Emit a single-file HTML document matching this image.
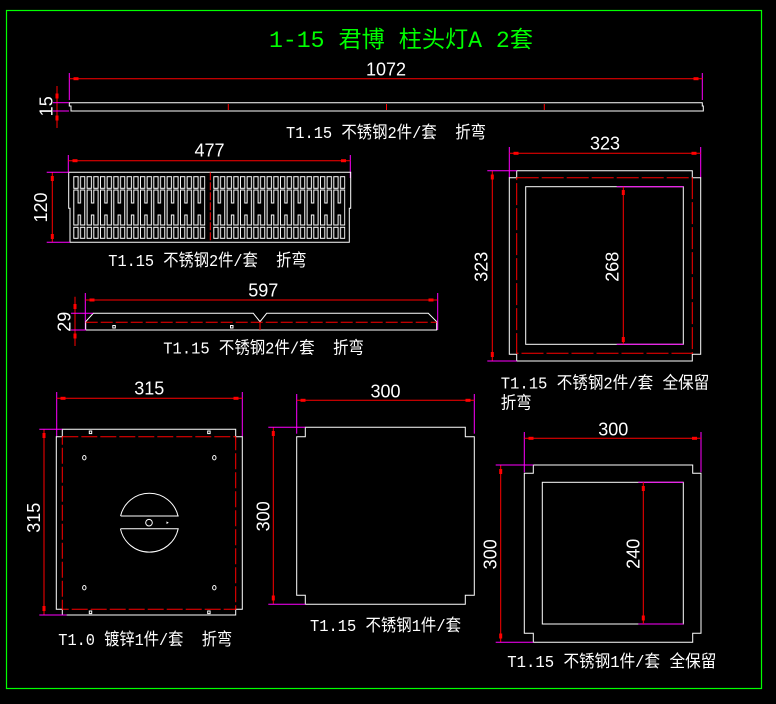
<!DOCTYPE html>
<html><head><meta charset="utf-8">
<style>
html,body{margin:0;padding:0;background:#000;}
svg{display:block;}
.d{font-family:"Liberation Sans",sans-serif;font-size:18px;fill:#fff;text-anchor:middle;}
.c{font-family:"Liberation Mono","Noto Sans CJK SC",monospace;font-size:17px;fill:#fff;white-space:pre;}
.w{stroke:#fff;stroke-width:1;fill:none;}
.r{stroke:#f00;stroke-width:1;fill:none;}
.m{stroke:#f0f;stroke-width:1;fill:none;}
.rd{stroke:#f00;stroke-width:1;fill:none;}
.mk{fill:#f00;}
</style></head>
<body>
<svg width="776" height="704" viewBox="0 0 776 704" xmlns="http://www.w3.org/2000/svg">
<defs>
<pattern id="slots" patternUnits="userSpaceOnUse" x="73.3" y="0" width="13.333" height="704">
  <rect x="0.5" y="176.7" width="4.3" height="11.6" fill="none" stroke="#fff" stroke-width="1"/>
  <rect x="7.17" y="176.7" width="4.3" height="11.6" fill="none" stroke="#fff" stroke-width="1"/>
  <rect x="0.5" y="227.3" width="4.3" height="11" fill="none" stroke="#fff" stroke-width="1"/>
  <rect x="7.17" y="227.3" width="4.3" height="11" fill="none" stroke="#fff" stroke-width="1"/>
  <path d="M0.5,190 H4.8 V203 H7.17 V190 H11.47 V225 H7.17 V215 H4.8 V225 H0.5 Z" fill="none" stroke="#fff" stroke-width="1"/>
</pattern>
</defs>
<rect x="0" y="0" width="776" height="704" fill="#000"/>
<!-- border -->
<rect x="6.5" y="10.5" width="755" height="678" fill="none" stroke="#0f0" stroke-width="1.2"/>
<!-- title -->
<text x="269" y="47" font-family="'Liberation Mono','Noto Sans CJK SC',monospace" font-size="23" fill="#0f0" textLength="264" lengthAdjust="spacingAndGlyphs" style="white-space:pre">1-15 君博 柱头灯A 2套</text>

<!-- ===== Section 1: 1072 strip ===== -->
<line class="m" x1="69.3" y1="73" x2="69.3" y2="100"/>
<line class="m" x1="702.3" y1="73" x2="702.3" y2="100"/>
<line class="r" x1="69.3" y1="78.7" x2="702.3" y2="78.7"/>
<rect class="mk" x="73.5" y="77.2" width="5" height="3"/>
<rect class="mk" x="693.5" y="77.2" width="5" height="3"/>
<text class="d" x="386" y="75.7">1072</text>
<path class="w" d="M71,111 V106 H69.3 V102.7 H702.3 V106 H703.3 V111 Z"/>
<line class="r" x1="228.3" y1="104" x2="228.3" y2="110"/>
<line class="r" x1="386.5" y1="104" x2="386.5" y2="110"/>
<line class="r" x1="544.3" y1="104" x2="544.3" y2="110"/>
<line class="r" x1="57" y1="86" x2="57" y2="128"/>
<rect class="mk" x="55.5" y="93.5" width="3" height="5"/>
<rect class="mk" x="55.5" y="115.5" width="3" height="5"/>
<line class="m" x1="53" y1="102.7" x2="69" y2="102.7"/>
<line class="m" x1="53" y1="111" x2="69" y2="111"/>
<text class="d" transform="translate(46.3,106.3) rotate(-90)" x="0" y="6.4">15</text>
<text class="c" x="286" y="138" textLength="200" lengthAdjust="spacingAndGlyphs">T1.15 不锈钢2件/套  折弯</text>

<!-- ===== Section 2: 477 ===== -->
<line class="m" x1="68.3" y1="155" x2="68.3" y2="172"/>
<line class="m" x1="350.3" y1="155" x2="350.3" y2="178"/>
<line class="r" x1="68.3" y1="160.7" x2="350.3" y2="160.7"/>
<rect class="mk" x="72.5" y="159.2" width="5" height="3"/>
<rect class="mk" x="341" y="159.2" width="5" height="3"/>
<text class="d" x="209.5" y="156.7">477</text>
<path class="w" d="M68.7,172.3 H350.7 V208.3 H349.3 V242.3 H70 V208.3 H68.7 Z"/>
<rect x="72.8" y="170" width="132.5" height="75" fill="url(#slots)"/>
<g transform="translate(140,0)">
<rect x="72.8" y="170" width="132.5" height="75" fill="url(#slots)"/>
</g>
<line class="rd" x1="210.3" y1="172.3" x2="210.3" y2="242.3" stroke-dasharray="8 2"/>
<line class="r" x1="52.3" y1="172.3" x2="52.3" y2="242.3"/>
<rect class="mk" x="50.8" y="176" width="3" height="5"/>
<rect class="mk" x="50.8" y="234" width="3" height="5"/>
<line class="m" x1="46.7" y1="172.3" x2="68.7" y2="172.3"/>
<line class="m" x1="46.7" y1="242.3" x2="70" y2="242.3"/>
<text class="d" transform="translate(40.8,207.5) rotate(-90)" x="0" y="6.4">120</text>
<text class="c" x="108.3" y="266" textLength="198.4" lengthAdjust="spacingAndGlyphs">T1.15 不锈钢2件/套  折弯</text>

<!-- ===== Section 3: 597 ===== -->
<line class="m" x1="85.3" y1="293" x2="85.3" y2="330"/>
<line class="m" x1="437.7" y1="293" x2="437.7" y2="330"/>
<line class="r" x1="85.3" y1="300" x2="437.7" y2="300"/>
<rect class="mk" x="89.5" y="298.5" width="5" height="3"/>
<rect class="mk" x="428.5" y="298.5" width="5" height="3"/>
<text class="d" x="263.3" y="296.5">597</text>
<path class="w" d="M85.7,330 V321.7 L93.3,313.3 H253.3 L260,321.7 L266.7,313.3 H428.3 L436.7,321.7 V330 Z"/>
<line class="rd" x1="85.7" y1="322.3" x2="436.7" y2="322.3" stroke-dasharray="12 3"/>
<line class="r" x1="260" y1="322" x2="260" y2="330"/>
<rect class="w" x="112.8" y="325.5" width="2.5" height="2.5"/>
<rect class="w" x="230.5" y="325.5" width="2.5" height="2.5"/>
<line class="r" x1="75" y1="296.7" x2="75" y2="346"/>
<rect class="mk" x="73.5" y="304" width="3" height="5"/>
<rect class="mk" x="73.5" y="333.5" width="3" height="5"/>
<line class="m" x1="71" y1="313.3" x2="93" y2="313.3"/>
<line class="m" x1="71" y1="330" x2="86" y2="330"/>
<text class="d" transform="translate(64,321.7) rotate(-90)" x="0" y="6.4">29</text>
<text class="c" x="163.3" y="353.5" textLength="200.7" lengthAdjust="spacingAndGlyphs">T1.15 不锈钢2件/套  折弯</text>

<!-- ===== Section 4: 323 ===== -->
<line class="m" x1="509.3" y1="147" x2="509.3" y2="177.7"/>
<line class="m" x1="700.7" y1="147" x2="700.7" y2="177.7"/>
<line class="r" x1="509.3" y1="153.3" x2="700.7" y2="153.3"/>
<rect class="mk" x="513.5" y="151.8" width="5" height="3"/>
<rect class="mk" x="691.5" y="151.8" width="5" height="3"/>
<text class="d" x="605" y="149.3">323</text>
<path class="w" d="M516.7,170.7 H692.3 V177.7 H700.7 V354.3 H692.3 V361 H516.7 V354.3 H509.3 V177.7 H516.7 Z"/>
<rect class="rd" x="516.7" y="177.7" width="175.6" height="175.6" stroke-dasharray="22 3"/>
<rect class="w" x="525.7" y="186.7" width="157.6" height="157.6"/>
<line class="m" x1="616.7" y1="186.7" x2="683.3" y2="186.7"/>
<line class="m" x1="616.7" y1="344.3" x2="683.3" y2="344.3"/>
<line class="r" x1="623.3" y1="186.7" x2="623.3" y2="344.3"/>
<rect class="mk" x="621.8" y="190" width="3" height="5"/>
<rect class="mk" x="621.8" y="337" width="3" height="5"/>
<text class="d" transform="translate(612.2,266.7) rotate(-90)" x="0" y="6.4">268</text>
<line class="r" x1="492.3" y1="170.7" x2="492.3" y2="361"/>
<rect class="mk" x="490.8" y="174.5" width="3" height="5"/>
<rect class="mk" x="490.8" y="352" width="3" height="5"/>
<line class="m" x1="487.3" y1="170.7" x2="516.7" y2="170.7"/>
<line class="m" x1="487.3" y1="361" x2="516.7" y2="361"/>
<text class="d" transform="translate(481.2,266.7) rotate(-90)" x="0" y="6.4">323</text>
<text class="c" x="500.7" y="388.3" textLength="208.6" lengthAdjust="spacingAndGlyphs">T1.15 不锈钢2件/套 全保留</text>
<text class="c" x="500.7" y="408.5" textLength="31" lengthAdjust="spacingAndGlyphs">折弯</text>

<!-- ===== Section 5: 315 ===== -->
<line class="m" x1="56.7" y1="392" x2="56.7" y2="436.7"/>
<line class="m" x1="242.3" y1="392" x2="242.3" y2="436.7"/>
<line class="r" x1="56.7" y1="398.3" x2="242.3" y2="398.3"/>
<rect class="mk" x="60.5" y="396.8" width="5" height="3"/>
<rect class="mk" x="233.5" y="396.8" width="5" height="3"/>
<text class="d" x="149.3" y="394.3">315</text>
<path class="w" d="M62.3,429.3 H235.7 V436.7 H242.3 V609.3 H235.7 V615 H62.3 V609.3 H56.3 V436.7 H62.3 Z"/>
<rect class="rd" x="62.3" y="436.7" width="173.4" height="172.6" stroke-dasharray="16 3"/>
<rect class="w" x="89.3" y="431" width="2.4" height="2.6"/>
<rect class="w" x="207.7" y="431" width="2.4" height="2.6"/>
<rect class="w" x="89.3" y="611" width="2.4" height="2.6"/>
<rect class="w" x="207.7" y="611" width="2.4" height="2.6"/>
<ellipse class="w" cx="84.3" cy="457.7" rx="1.7" ry="2.2"/>
<ellipse class="w" cx="214.3" cy="457.7" rx="1.7" ry="2.2"/>
<ellipse class="w" cx="84.3" cy="587.7" rx="1.7" ry="2.2"/>
<ellipse class="w" cx="214.3" cy="587.7" rx="1.7" ry="2.2"/>
<path class="w" d="M120.57,516 A29.5,29.5 0 0 1 178.03,516"/>
<line class="w" x1="120.7" y1="516" x2="178.7" y2="516"/>
<path class="w" d="M120.42,528.7 A29.5,29.5 0 0 0 178.18,528.7"/>
<line class="w" x1="120.7" y1="528.7" x2="178.7" y2="528.7"/>
<circle class="w" cx="149" cy="522.7" r="3.3"/>
<polygon points="166.5,521.4 168.8,522.7 166.5,524" fill="#fff"/>
<line class="r" x1="44" y1="429.3" x2="44" y2="615"/>
<rect class="mk" x="42.5" y="433" width="3" height="5"/>
<rect class="mk" x="42.5" y="606" width="3" height="5"/>
<line class="m" x1="39.3" y1="429.3" x2="62.3" y2="429.3"/>
<line class="m" x1="39.3" y1="615" x2="66.7" y2="615"/>
<text class="d" transform="translate(33.7,517.7) rotate(-90)" x="0" y="6.4">315</text>
<text class="c" x="58.3" y="645" textLength="174" lengthAdjust="spacingAndGlyphs">T1.0 镀锌1件/套  折弯</text>

<!-- ===== Section 6: 300 ===== -->
<line class="m" x1="296.7" y1="394" x2="296.7" y2="433.7"/>
<line class="m" x1="474.3" y1="394" x2="474.3" y2="433.7"/>
<line class="r" x1="296.7" y1="400.3" x2="474.3" y2="400.3"/>
<rect class="mk" x="300.5" y="398.8" width="5" height="3"/>
<rect class="mk" x="465.5" y="398.8" width="5" height="3"/>
<text class="d" x="385.5" y="397.3">300</text>
<path class="w" d="M305.3,427.3 H465.3 V436.7 H474.3 V595.3 H465.3 V604.3 H305.3 V595.3 H296.7 V436.7 H305.3 Z"/>
<line class="r" x1="273.3" y1="427.3" x2="273.3" y2="604.3"/>
<rect class="mk" x="271.8" y="431" width="3" height="5"/>
<rect class="mk" x="271.8" y="595.5" width="3" height="5"/>
<line class="m" x1="268.3" y1="427.3" x2="305.3" y2="427.3"/>
<line class="m" x1="268.3" y1="604.3" x2="305.3" y2="604.3"/>
<text class="d" transform="translate(263,516.3) rotate(-90)" x="0" y="6.4">300</text>
<text class="c" x="310" y="631" textLength="151" lengthAdjust="spacingAndGlyphs">T1.15 不锈钢1件/套</text>

<!-- ===== Section 7: 300 / 240 ===== -->
<line class="m" x1="524.3" y1="432" x2="524.3" y2="472.3"/>
<line class="m" x1="701" y1="432" x2="701" y2="472.3"/>
<line class="r" x1="524.3" y1="438.3" x2="701" y2="438.3"/>
<rect class="mk" x="528.5" y="436.8" width="5" height="3"/>
<rect class="mk" x="692" y="436.8" width="5" height="3"/>
<text class="d" x="613.3" y="435.7">300</text>
<path class="w" d="M533.3,465 H692.7 V473.3 H701 V633.3 H692.7 V642.3 H533.3 V633.3 H524.3 V473.3 H533.3 Z"/>
<rect class="w" x="542.3" y="482.3" width="141" height="141.7"/>
<line class="m" x1="638.3" y1="482.3" x2="683.3" y2="482.3"/>
<line class="m" x1="638.3" y1="624" x2="683.3" y2="624"/>
<line class="r" x1="643.3" y1="482.3" x2="643.3" y2="624"/>
<rect class="mk" x="641.8" y="486" width="3" height="5"/>
<rect class="mk" x="641.8" y="615.5" width="3" height="5"/>
<text class="d" transform="translate(633.3,553.8) rotate(-90)" x="0" y="6.4">240</text>
<line class="r" x1="500.7" y1="465" x2="500.7" y2="642.3"/>
<rect class="mk" x="499.2" y="469" width="3" height="5"/>
<rect class="mk" x="499.2" y="633.5" width="3" height="5"/>
<line class="m" x1="495.7" y1="465" x2="533.3" y2="465"/>
<line class="m" x1="495.7" y1="642.3" x2="533.3" y2="642.3"/>
<text class="d" transform="translate(490.3,554.3) rotate(-90)" x="0" y="6.4">300</text>
<text class="c" x="507.3" y="667" textLength="209" lengthAdjust="spacingAndGlyphs">T1.15 不锈钢1件/套 全保留</text>
</svg>
</body></html>
